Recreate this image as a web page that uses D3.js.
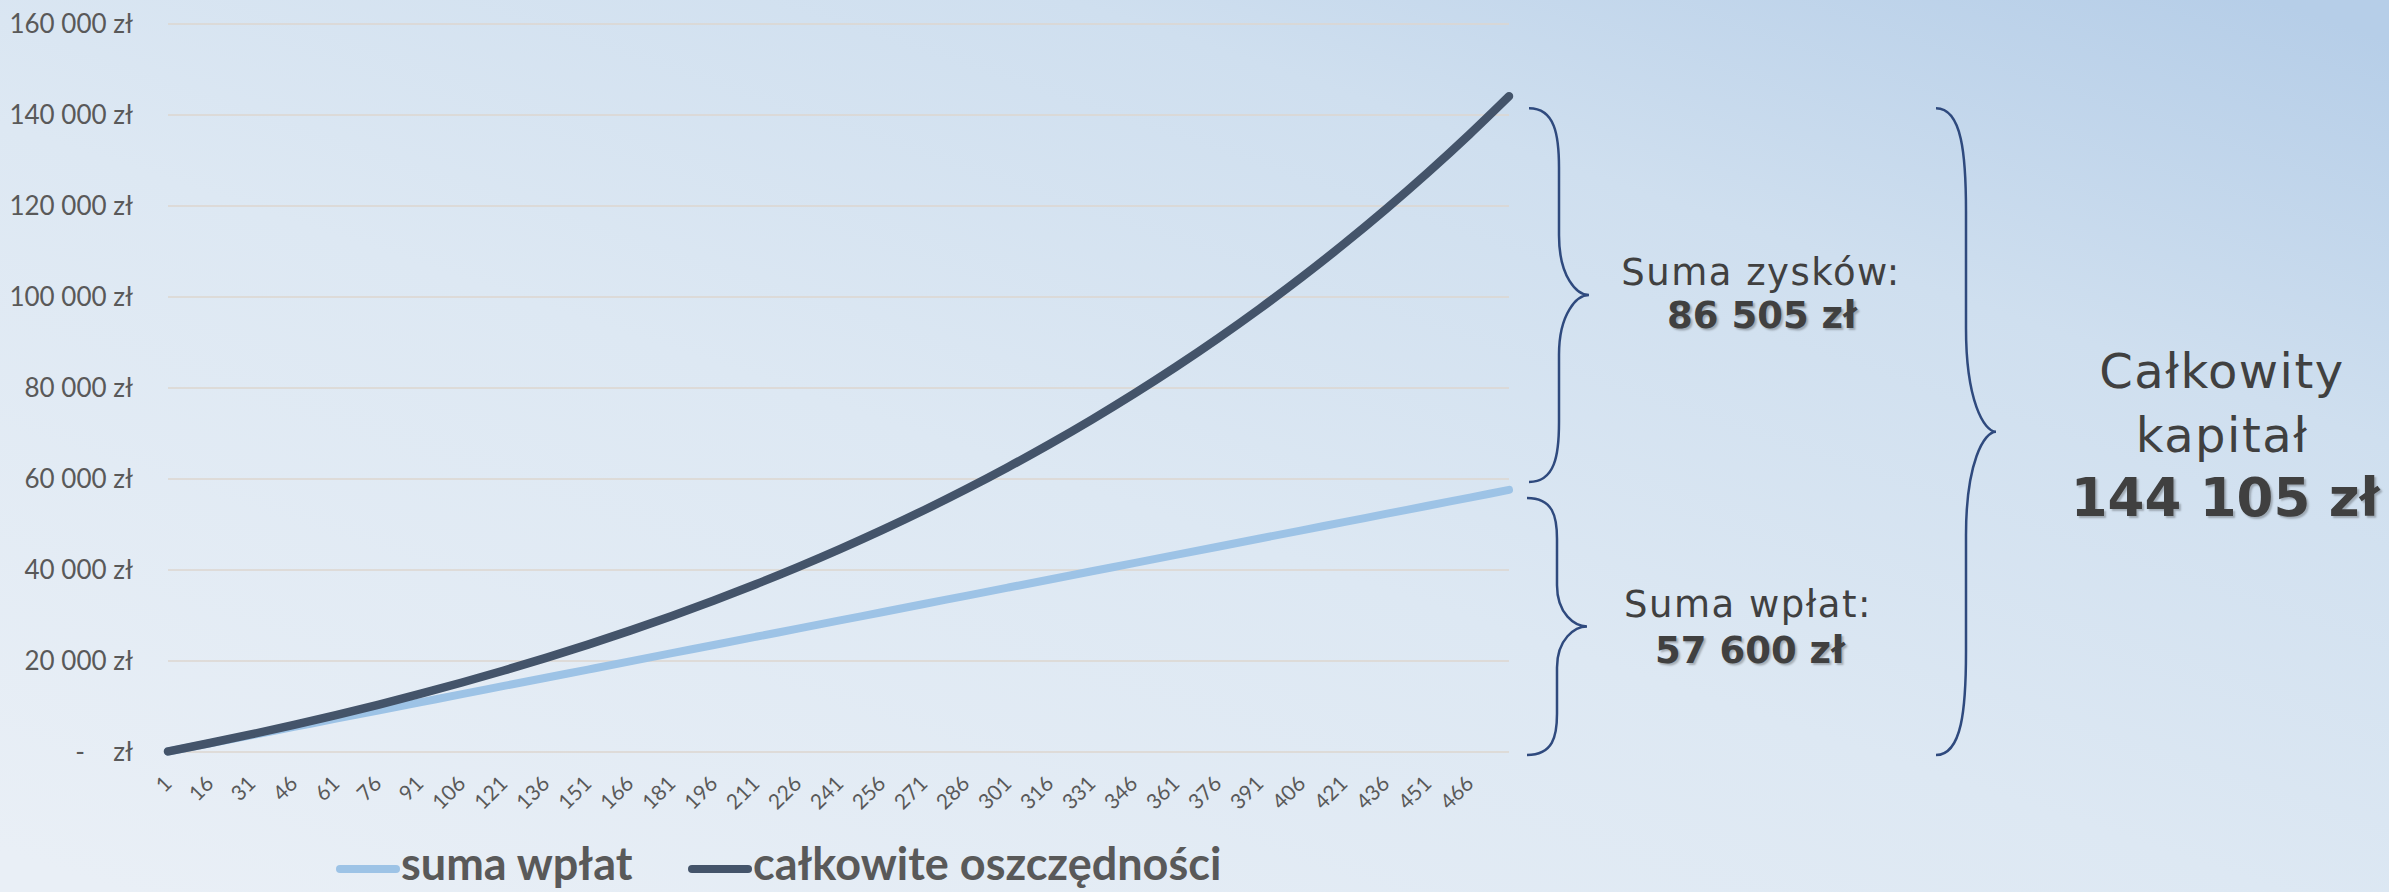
<!DOCTYPE html>
<html>
<head>
<meta charset="utf-8">
<script src="https://cdn.jsdelivr.net/npm/d3@7"></script>
<style>
  body { margin: 0; overflow: hidden; }
</style>
</head>
<body>
<svg id="main-canvas" width="2389" height="892"></svg>
<script>
// miesiące, w których są etykiety osi X (co 15)
var months = [1, 16, 31, 46, 61, 76, 91, 106, 121, 136, 151, 166, 181, 196, 211, 226, 241,
              256, 271, 286, 301, 316, 331, 346, 361, 376, 391, 406, 421, 436, 451, 466, 480]
var xTickLabels = ["1", "16", "31", "46", "61", "76", "91", "106", "121", "136", "151", "166",
                   "181", "196", "211", "226", "241", "256", "271", "286", "301", "316", "331",
                   "346", "361", "376", "391", "406", "421", "436", "451", "466"]

// suma wpłat
var sumaWplat = [120, 1920, 3720, 5520, 7320, 9120, 10920, 12720, 14520, 16320, 18120, 19920,
                 21720, 23520, 25320, 27120, 28920, 30720, 32520, 34320, 36120, 37920, 39720,
                 41520, 43320, 45120, 46920, 48720, 50520, 52320, 54120, 55920, 57600]

// całkowite oszczędności
var oszczednosci = [120, 1969, 3915, 5962, 8115, 10381, 12764, 15271, 17909, 20684, 23603, 26674,
                    29905, 33303, 36879, 40640, 44597, 48760, 53140, 57747, 62594, 67693, 73057,
                    78700, 84636, 90882, 97452, 104364, 111636, 119285, 127333, 135799, 144105]

var yTicks = [0, 20000, 40000, 60000, 80000, 100000, 120000, 140000, 160000]
var seriesNames = ["suma wpłat", "całkowite oszczędności"]
var seriesColors = ["#9dc3e6", "#44546a"]

var svg = d3.select("#main-canvas")

// tło
var defs = svg.append("defs")
var grad = defs.append("linearGradient")
   .attr("id", "bg")
   .attr("x1", 0.05).attr("y1", 1)
   .attr("x2", 0.95).attr("y2", 0)
grad.append("stop").attr("offset", 0).attr("stop-color", "#e9eff6")
grad.append("stop").attr("offset", 0.45).attr("stop-color", "#dde8f3")
grad.append("stop").attr("offset", 0.75).attr("stop-color", "#cfdfef")
grad.append("stop").attr("offset", 1).attr("stop-color", "#b6cee8")

svg.append("rect")
   .attr("width", 2389).attr("height", 892)
   .attr("fill", "url(#bg)")

var x = d3.scaleLinear().domain([1, 480]).range([168, 1509])
var y = d3.scaleLinear().domain([0, 160000]).range([752, 24])

// linie siatki
svg.append("g")
   .selectAll("line")
   .data(yTicks)
   .join("line")
   .attr("x1", x(1)).attr("x2", x(480))
   .attr("y1", d => y(d)).attr("y2", d => y(d))
   .attr("stroke", "#ddd6cf")
   .attr("stroke-width", 1.5)

// oś Y
var fmt = d3.format(",")
var yAxis = svg.append("g")
   .attr("transform", "translate(" + x(1) + ",0)")
   .call(d3.axisLeft(y)
      .tickValues(yTicks)
      .tickSize(0)
      .tickPadding(35)
      .tickFormat(d => d === 0 ? "-\u2007\u00a0\u00a0zł" : fmt(d).replace(/,/g, " ") + " zł"))
yAxis.select(".domain").remove()
yAxis.selectAll("text")
   .attr("font-family", "Lato, 'Open Sans', sans-serif")
   .attr("font-size", 26)
   .attr("fill", "#595959")

// oś X - etykiety pod kątem
svg.append("g")
   .selectAll("text")
   .data(xTickLabels)
   .join("text")
   .attr("transform", d => "translate(" + (x(+d) + 5) + ",785) rotate(-45)")
   .attr("text-anchor", "end")
   .attr("font-family", "Lato, 'Open Sans', sans-serif")
   .attr("font-size", 21)
   .attr("fill", "#595959")
   .text(d => d)

// linie serii
var line = d3.line()
   .x(d => x(d[0]))
   .y(d => y(d[1]))
   .curve(d3.curveMonotoneX)

;[sumaWplat, oszczednosci].forEach(function (vals, i) {
  svg.append("path")
     .datum(months.map((m, j) => [m, vals[j]]))
     .attr("d", line)
     .attr("fill", "none")
     .attr("stroke", seriesColors[i])
     .attr("stroke-width", i === 0 ? 8 : 8.5)
     .attr("stroke-linecap", "round")
     .attr("stroke-linejoin", "round")
})

// klamry
function brace(x0, yt, yb, w) {
  var c = (yb - yt) * 0.16
  var mid = (yt + yb) / 2
  var xv = x0 + w / 2
  return "M" + x0 + "," + yt +
         " C" + (xv - 4) + "," + yt + " " + xv + "," + (yt + c * 0.45) + " " + xv + "," + (yt + c) +
         " L" + xv + "," + (mid - c) +
         " C" + xv + "," + (mid - c * 0.3) + " " + (x0 + w - 12) + "," + mid + " " + (x0 + w) + "," + mid +
         " C" + (x0 + w - 12) + "," + mid + " " + xv + "," + (mid + c * 0.3) + " " + xv + "," + (mid + c) +
         " L" + xv + "," + (yb - c) +
         " C" + xv + "," + (yb - c * 0.45) + " " + (xv - 4) + "," + yb + " " + x0 + "," + yb
}

var total = oszczednosci[oszczednosci.length - 1]
var wplaty = sumaWplat[sumaWplat.length - 1]
var braces = [
  [1529, y(total) + 12, y(wplaty) - 8],
  [1527, y(wplaty) + 8, y(0) + 3],
  [1936, y(total) + 12, y(0) + 3]
]
svg.append("g")
   .selectAll("path")
   .data(braces)
   .join("path")
   .attr("d", d => brace(d[0], d[1], d[2], 60))
   .attr("fill", "none")
   .attr("stroke", "#2f4a7e")
   .attr("stroke-width", 2.5)

// opisy
var nbsp = v => fmt(v).replace(/,/g, " ") + " zł"
var notes = [
  { t: "Suma zysków:", x: 1761, y: 285, s: 37, b: false },
  { t: nbsp(total - wplaty), x: 1762, y: 328, s: 37, b: true },
  { t: "Suma wpłat:", x: 1748, y: 617, s: 37, b: false },
  { t: nbsp(wplaty), x: 1750, y: 663, s: 37, b: true },
  { t: "Całkowity", x: 2222, y: 388, s: 48, b: false },
  { t: "kapitał", x: 2222, y: 452, s: 48, b: false },
  { t: nbsp(total), x: 2225, y: 516, s: 53, b: true }
]
svg.append("g")
   .selectAll("text")
   .data(notes)
   .join("text")
   .attr("x", d => d.x)
   .attr("y", d => d.y)
   .attr("text-anchor", "middle")
   .attr("font-family", "'DejaVu Sans', Verdana, sans-serif")
   .attr("font-size", d => d.s)
   .attr("font-weight", d => d.b ? "bold" : "normal")
   .attr("letter-spacing", d => d.b ? 0 : 1.5)
   .attr("fill", "#404040")
   .attr("style", d => d.b ? "text-shadow: 2px 2px 2px rgba(0,0,0,0.25)" : null)
   .text(d => d.t)

// legenda
var legend = [[340, 401], [692, 753]]
legend.forEach(function (p, i) {
  svg.append("line")
     .attr("x1", p[0]).attr("x2", p[0] + 56)
     .attr("y1", 869).attr("y2", 869)
     .attr("stroke", seriesColors[i])
     .attr("stroke-width", 8)
     .attr("stroke-linecap", "round")
  svg.append("text")
     .attr("x", p[1])
     .attr("y", 880)
     .attr("font-family", "Lato, 'Open Sans', sans-serif")
     .attr("font-weight", "bold")
     .attr("font-size", 45)
     .attr("fill", "#595959")
     .text(seriesNames[i])
})
</script>
</body>
</html>
